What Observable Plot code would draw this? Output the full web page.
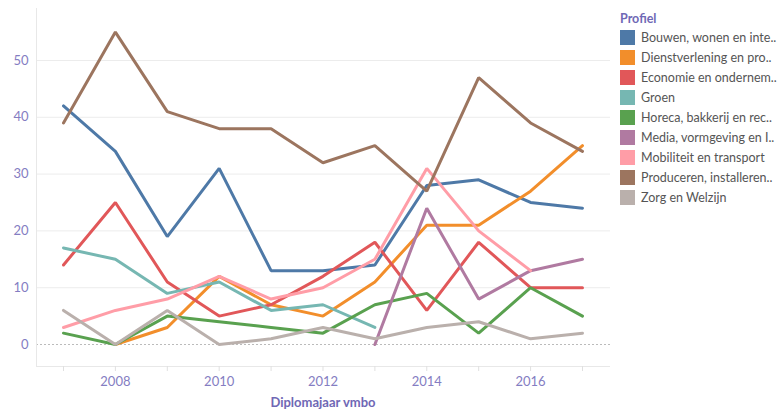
<!DOCTYPE html>
<html>
<head>
<meta charset="utf-8">
<script src="https://cdn.jsdelivr.net/npm/d3@7"></script>
<script src="https://cdn.jsdelivr.net/npm/@observablehq/plot@0.6"></script>
<style>
  body { margin: 0; background: #fff; font-family: Lato, "Open Sans", sans-serif; }
  #wrap { position: relative; width: 780px; height: 414px; }
  #chart { position: absolute; left: 0; top: 0; }
  #legend { position: absolute; left: 620px; top: 11px; font-size: 12.5px; color: #555; }
  #legend .title { color: #6f68b5; font-weight: bold; font-size: 12.5px; margin-bottom: 1px; }
  #legend .row { display: flex; align-items: center; height: 20px; white-space: nowrap; }
  #legend .sw { width: 15px; height: 15px; margin-right: 6px; flex: none; }
</style>
</head>
<body>
<div id="wrap"><div id="chart"></div><div id="legend"></div></div>
<script>
const years = [2007, 2008, 2009, 2010, 2011, 2012, 2013, 2014, 2015, 2016, 2017];
const categories = [
  "Bouwen, wonen en inte..",
  "Dienstverlening en pro..",
  "Economie en ondernem..",
  "Groen",
  "Horeca, bakkerij en rec..",
  "Media, vormgeving en I..",
  "Mobiliteit en transport",
  "Produceren, installeren..",
  "Zorg en Welzijn"
];
const colors = ["#4e79a7", "#f28e2b", "#e15759", "#76b7b2", "#59a14f", "#b07aa1", "#ff9da7", "#9c755f", "#bab0ac"];
const bouwen        = [42, 34, 19, 31, 13, 13, 14, 28, 29, 25, 24];
const dienst        = [null, 0, 3, 12, 7, 5, 11, 21, 21, 27, 35];
const economie      = [14, 25, 11, 5, 7, 12, 18, 6, 18, 10, 10];
const groen         = [17, 15, 9, 11, 6, 7, 3, null, null, null, null];
const horeca        = [2, 0, 5, 4, 3, 2, 7, 9, 2, 10, 5];
const media         = [null, null, null, null, null, null, 0, 24, 8, 13, 15];
const mobiliteit    = [3, 6, 8, 12, 8, 10, 15, 31, 20, 13, null];
const produceren    = [39, 55, 41, 38, 38, 32, 35, 27, 47, 39, 34];
const zorg          = [6, 0, 6, 0, 1, 3, 1, 3, 4, 1, 2];
const yTicks = [0, 10, 20, 30, 40, 50];
const xLabelYears = [2008, 2010, 2012, 2014, 2016];

const seriesValues = [bouwen, dienst, economie, groen, horeca, media, mobiliteit, produceren, zorg];
const data = [];
seriesValues.forEach((vals, i) => {
  vals.forEach((v, j) => {
    if (v != null) data.push({profiel: categories[i], jaar: years[j], aantal: v});
  });
});

const labelColor = "#847dc2";
const chart = Plot.plot({
  width: 612,
  height: 414,
  marginLeft: 36,
  marginRight: 2,
  marginTop: 8,
  marginBottom: 48,
  style: {fontFamily: "Lato, 'Open Sans', sans-serif", fontSize: "13px", background: "#fff"},
  x: {domain: [2006.48, 2017.54]},
  y: {domain: [-3.87, 59.15]},
  color: {domain: categories, range: colors},
  marks: [
    Plot.gridY(yTicks.filter(d => d !== 0), {stroke: "#ececec", strokeOpacity: 1, strokeWidth: 1}),
    Plot.ruleY([0], {stroke: "#bbbbbb", strokeDasharray: "2,2", strokeWidth: 1}),
    Plot.ruleX([2006.48], {stroke: "#e8e8e8"}),
    Plot.ruleY([-3.87], {stroke: "#e8e8e8"}),
    Plot.axisY(yTicks, {tickSize: 0, tickPadding: 8, fill: labelColor, label: null, fontSize: 13}),
    Plot.axisX(years, {tickSize: 5, stroke: "#e0e0e0", tickFormat: () => "", label: null}),
    Plot.axisX(xLabelYears, {tickSize: 0, tickPadding: 10, tickFormat: d => String(d), fill: labelColor, label: null, fontSize: 13}),
    Plot.text(["Diplomajaar vmbo"], {frameAnchor: "bottom", dy: 40, fill: "#6f68b5", fontWeight: "bold", fontSize: 13, x: () => 2012}),
    Plot.line(data, {x: "jaar", y: "aantal", z: "profiel", stroke: "profiel", strokeWidth: 3, strokeLinejoin: "miter"})
  ]
});
document.getElementById("chart").appendChild(chart);

const legend = document.getElementById("legend");
legend.innerHTML = `<div class="title">Profiel</div>` + categories.map((c, i) =>
  `<div class="row"><div class="sw" style="background:${colors[i]}"></div><span>${c}</span></div>`).join("");
</script>
</body>
</html>
